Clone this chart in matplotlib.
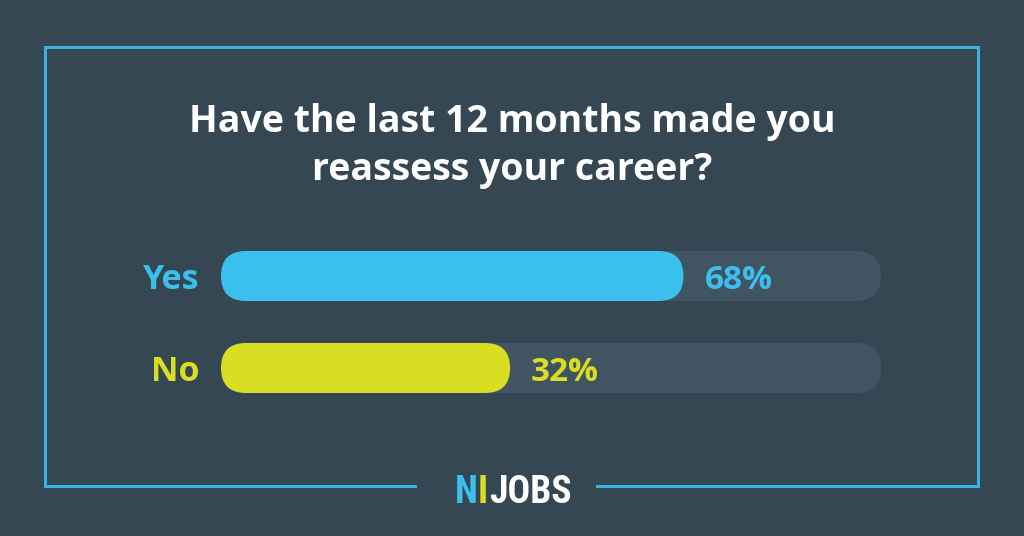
import matplotlib
matplotlib.use("Agg")
import matplotlib.pyplot as plt
from matplotlib.patches import FancyBboxPatch
from matplotlib.lines import Line2D
from matplotlib import font_manager

# ---- data ----
categories = ["Yes", "No"]
values = [68, 32]
value_labels = ["68%", "32%"]
title_lines = ["Have the last 12 months made you", "reassess your career?"]
logo_parts = ["NI", "JOBS"]

# ---- style ----
BG = "#344753"
TRACK = "#415461"
BLUE = "#3bbfec"
YELLOW = "#d9de22"
FRAME = "#3ab4df"
bar_colors = [BLUE, YELLOW]

W, H = 1024, 536
DPI = 100
fig = plt.figure(figsize=(W / DPI, H / DPI), dpi=DPI, facecolor=BG)

avail = {f.name for f in font_manager.fontManager.ttflist}
MAIN = "Open Sans" if "Open Sans" in avail else "DejaVu Sans"
NARROW = next((f for f in ["Liberation Sans Narrow", "Roboto Condensed", "Open Sans Condensed", "DejaVu Sans"] if f in avail), "DejaVu Sans")

def fx(px):
    return px / W

def fy(py):
    return 1 - py / H

# frame
lw = 3 * 72 / DPI
segs = [((45, 47), (978, 47)), ((45, 47), (45, 486)), ((978, 47), (978, 486)),
        ((45, 486), (415, 486)), ((597, 486), (978, 486))]
for (x0, y0), (x1, y1) in segs:
    fig.add_artist(Line2D([fx(x0), fx(x1)], [fy(y0), fy(y1)], color=FRAME, lw=lw,
                          solid_capstyle="projecting", transform=fig.transFigure))

# title
fig.text(0.5, fy(132), title_lines[0], ha="center", va="baseline", color="white",
         fontsize=27, fontweight="bold", family=MAIN)
fig.text(0.5, fy(180), title_lines[1], ha="center", va="baseline", color="white",
         fontsize=27, fontweight="bold", family=MAIN)

# bars axes
track_l, track_r = 221, 881
top_px, bot_px = 251, 393
ax = fig.add_axes([fx(track_l), fy(bot_px), (track_r - track_l) / W, (bot_px - top_px) / H])
ax.set_facecolor("none")
ax.axis("off")
origin, x_end = -28, 109
ax.set_xlim(origin, x_end)
spacing_px = 92
bar_h_px = 50
half = (bar_h_px / 2) / spacing_px
ax.set_ylim(1 + half, -half)
bar_h = bar_h_px / spacing_px

dx_per_px = (x_end - origin) / (track_r - track_l)
dy_per_px = 1 / spacing_px
r = (bar_h_px / 2) * dx_per_px
aspect = dy_per_px / dx_per_px

def rbar(x0, w, yc, color):
    p = FancyBboxPatch((x0, yc - bar_h / 2), w, bar_h,
                       boxstyle=f"round,pad=0,rounding_size={r}",
                       mutation_aspect=aspect, fc=color, ec="none")
    ax.add_patch(p)

ypos = list(range(len(categories)))
for i, (cat, v, lab) in enumerate(zip(categories, values, value_labels)):
    rbar(origin, x_end - origin, ypos[i], TRACK)
    rbar(origin, v - origin, ypos[i], bar_colors[i])
    ax.annotate(cat, (origin, ypos[i]), xytext=(-22, -13), textcoords="offset pixels",
                ha="right", va="baseline", color=bar_colors[i], fontsize=24.5,
                fontweight="bold", family=MAIN)
    ax.annotate(lab, (v, ypos[i]), xytext=(21, -13), textcoords="offset pixels",
                ha="left", va="baseline", color=bar_colors[i], fontsize=24,
                fontweight="bold", family=MAIN)

# logo
ly = fy(503)
fs_logo = 27
fig.text(fx(455), ly, logo_parts[0][0], ha="left", va="baseline", color=BLUE,
         fontsize=fs_logo, fontweight="bold", family=NARROW)
fig.text(fx(478), ly, logo_parts[0][1], ha="left", va="baseline", color=YELLOW,
         fontsize=fs_logo, fontweight="bold", family=NARROW)
fig.text(fx(489), ly, logo_parts[1], ha="left", va="baseline", color="white",
         fontsize=fs_logo, fontweight="bold", family=NARROW)

fig.savefig("out.png", dpi=DPI, facecolor=BG)
